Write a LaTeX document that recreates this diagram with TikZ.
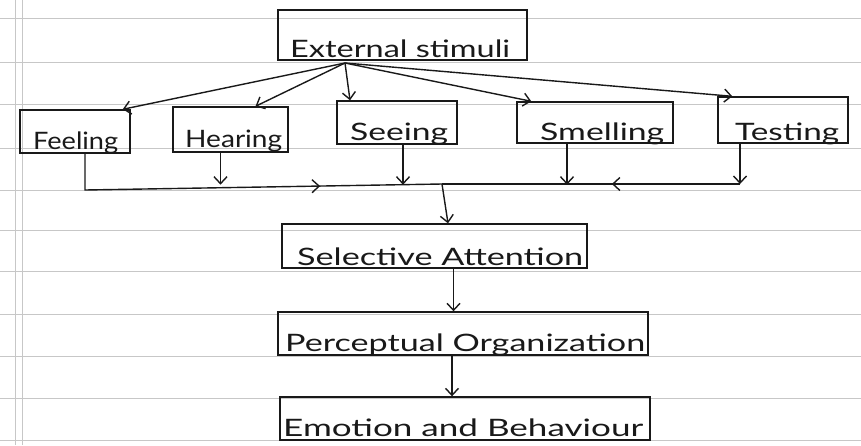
\documentclass[tikz,border=0pt]{standalone}
\usepackage{fontspec}
\setmainfont{Lato}
\usepackage{graphicx}
\usetikzlibrary{arrows.meta,decorations.markings}
\tikzset{
  x=1pt,y=-1pt,
  pen/.style={line width=1.4pt, draw=black!90},
  box/.style={pen, rectangle, inner sep=0pt, minimum width=#1},
  lbl/.style={anchor=base west, inner sep=0pt, font=\fontsize{24}{26}\selectfont, text=black!90},
  arr/.style={pen, -{Straight Barb[length=7pt,width=13pt]}},
  midarr/.style={pen, postaction={decorate}, decoration={markings, mark=at position #1 with {\arrow{Straight Barb[length=7pt,width=13pt, line width=1.4pt]}}}},
  rule/.style={draw=black!22, line width=0.7pt}
}
\newcommand{\fitw}[2]{\resizebox{#1pt}{\height}{#2}}
\begin{document}
\begin{tikzpicture}
\useasboundingbox (0,0) rectangle (861,445);
% ruled paper
\foreach \yy in {18,62,104,148,190,230,271,314,356,398,440}
  \draw[rule] (0,\yy) -- (861,\yy);
\draw[rule] (15,0) -- (15,445);
\draw[rule] (22,0) -- (22,445);
% boxes
\node[box=249pt, minimum height=50pt] (ext) at (402.5,35) {};
\node[box=110pt, minimum height=43pt] (feel) at (75,131.5) {};
\node[box=115pt, minimum height=45pt] (hear) at (230.5,129.5) {};
\node[box=120pt, minimum height=43pt] (see) at (397,122.5) {};
\node[box=156pt, minimum height=41pt] (smell) at (595,122.5) {};
\node[box=130pt, minimum height=46pt] (test) at (783,120) {};
\node[box=305pt, minimum height=44pt] (sel) at (434.5,246) {};
\node[box=370pt, minimum height=43pt] (perc) at (463,333.5) {};
\node[box=370pt, minimum height=43pt] (emo) at (465,418.5) {};
% labels
\node[lbl] (tExt) at (290,57) {\fitw{220}{External stimuli}};
\node[lbl] (tFeel) at (33,149) {\fitw{85}{Feeling}};
\node[lbl] (tHear) at (185,147) {\fitw{97}{Hearing}};
\node[lbl] (tSee) at (350,140) {\fitw{98}{Seeing}};
\node[lbl] (tSmell) at (540,140) {\fitw{124}{Smelling}};
\node[lbl] (tTest) at (735,140) {\fitw{104}{Testing}};
\node[lbl] (tSel) at (297,265) {\fitw{286}{Selective Attention}};
\node[lbl] (tPerc) at (285,351) {\fitw{360}{Perceptual Organization}};
\node[lbl] (tEmo) at (283,436) {\fitw{360}{Emotion and Behaviour}};
% fan-out from External stimuli
\coordinate (src) at (345,63);
\draw[arr] (src) -- ([xshift=-8pt]feel.north east);
\draw[arr] (src) -- ([xshift=25pt]hear.north);
\draw[arr] (src) -- ([xshift=-47pt]see.north);
\draw[arr] (src) -- ([xshift=15pt]smell.north west);
\draw[arr] (src) -- ([xshift=15pt]test.north west);
% collecting lines
\coordinate (j) at (442,184);
\coordinate (lb) at (85,190);
\coordinate (rb) at (740,184);
\draw[midarr=0.69] ([xshift=10pt]feel.south) -- (lb) -- (j);
\draw[arr] ([xshift=-10pt]hear.south) -- ++(0,32);
\draw[arr] ([xshift=6pt]see.south) -- ++(0,40);
\draw[arr] ([xshift=-28pt]smell.south) -- ++(0,41);
\draw[arr] ([xshift=-43pt]test.south) -- (rb);
\draw[midarr=0.43] (rb) -- (j);
% vertical chain
\draw[arr] (j) -- ([xshift=13.5pt]sel.north);
\draw[arr] ([xshift=19pt]sel.south) -- ([xshift=-9.5pt]perc.north);
\draw[arr] ([xshift=-11pt]perc.south) -- ([xshift=-13pt]emo.north);
\end{tikzpicture}
\end{document}
